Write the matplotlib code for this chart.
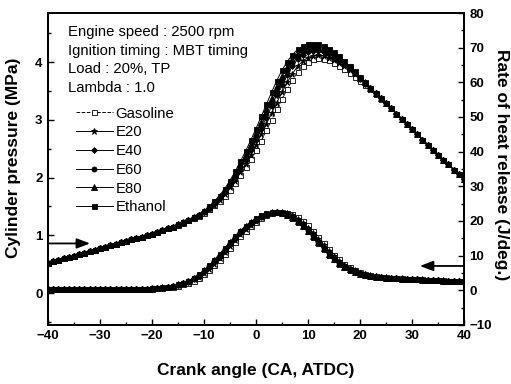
import numpy as np
import matplotlib
matplotlib.use("Agg")
import matplotlib.pyplot as plt
from matplotlib.ticker import MultipleLocator

plt.rcParams['font.family'] = ['Liberation Sans', 'DejaVu Sans']

# crank angle, one point per degree
crank_angle = np.arange(-40, 41)

# cylinder pressure (MPa)
p_gasoline = [
    0.53, 0.55, 0.58, 0.60, 0.63, 0.65, 0.68, 0.70, 0.73, 0.75,
    0.78, 0.80, 0.83, 0.85, 0.88, 0.90, 0.93, 0.95, 0.98, 1.00,
    1.03, 1.06, 1.09, 1.12, 1.15, 1.18, 1.22, 1.26, 1.30, 1.34,
    1.39, 1.45, 1.52, 1.60, 1.69, 1.79, 1.91, 2.04, 2.18, 2.32,
    2.47, 2.64, 2.82, 3.00, 3.18, 3.36, 3.53, 3.69, 3.83, 3.94,
    4.01, 4.05, 4.07, 4.06, 4.03, 3.99, 3.94, 3.88, 3.82, 3.75,
    3.68, 3.61, 3.53, 3.45, 3.37, 3.29, 3.20, 3.11, 3.02, 2.93,
    2.84, 2.75, 2.66, 2.57, 2.48, 2.40, 2.31, 2.23, 2.14, 2.06,
    1.98]
p_e20 = [
    0.53, 0.55, 0.58, 0.60, 0.63, 0.65, 0.68, 0.70, 0.73, 0.75,
    0.78, 0.80, 0.83, 0.85, 0.88, 0.90, 0.93, 0.95, 0.98, 1.00,
    1.03, 1.06, 1.09, 1.12, 1.15, 1.18, 1.22, 1.26, 1.30, 1.35,
    1.40, 1.46, 1.53, 1.62, 1.72, 1.83, 1.95, 2.09, 2.24, 2.40,
    2.57, 2.75, 2.93, 3.12, 3.30, 3.48, 3.65, 3.80, 3.93, 4.02,
    4.08, 4.11, 4.12, 4.11, 4.08, 4.04, 3.99, 3.93, 3.86, 3.79,
    3.70, 3.62, 3.54, 3.46, 3.38, 3.29, 3.20, 3.11, 3.02, 2.93,
    2.84, 2.75, 2.66, 2.57, 2.48, 2.40, 2.31, 2.23, 2.14, 2.06,
    1.98]
p_e40 = [
    0.53, 0.55, 0.58, 0.60, 0.63, 0.65, 0.68, 0.70, 0.73, 0.75,
    0.78, 0.80, 0.83, 0.85, 0.88, 0.90, 0.93, 0.95, 0.98, 1.00,
    1.03, 1.06, 1.09, 1.12, 1.15, 1.18, 1.22, 1.26, 1.30, 1.35,
    1.40, 1.47, 1.55, 1.64, 1.75, 1.87, 2.00, 2.15, 2.31, 2.48,
    2.66, 2.85, 3.04, 3.24, 3.43, 3.61, 3.78, 3.93, 4.05, 4.13,
    4.17, 4.19, 4.19, 4.17, 4.14, 4.09, 4.03, 3.96, 3.89, 3.81,
    3.71, 3.63, 3.55, 3.46, 3.38, 3.29, 3.20, 3.11, 3.02, 2.93,
    2.84, 2.75, 2.66, 2.57, 2.48, 2.40, 2.31, 2.23, 2.14, 2.06,
    1.98]
p_e60 = [
    0.53, 0.55, 0.58, 0.60, 0.63, 0.65, 0.68, 0.70, 0.73, 0.75,
    0.78, 0.80, 0.83, 0.85, 0.88, 0.90, 0.93, 0.95, 0.98, 1.00,
    1.03, 1.06, 1.09, 1.12, 1.15, 1.19, 1.23, 1.27, 1.31, 1.36,
    1.41, 1.48, 1.56, 1.66, 1.77, 1.89, 2.03, 2.18, 2.35, 2.52,
    2.70, 2.90, 3.10, 3.30, 3.49, 3.67, 3.84, 3.98, 4.09, 4.17,
    4.21, 4.23, 4.22, 4.20, 4.16, 4.11, 4.05, 3.98, 3.90, 3.82,
    3.72, 3.64, 3.55, 3.47, 3.38, 3.29, 3.20, 3.11, 3.02, 2.93,
    2.84, 2.75, 2.66, 2.57, 2.48, 2.40, 2.31, 2.23, 2.14, 2.06,
    1.98]
p_e80 = [
    0.53, 0.55, 0.58, 0.60, 0.63, 0.65, 0.68, 0.70, 0.73, 0.75,
    0.78, 0.80, 0.83, 0.85, 0.88, 0.90, 0.93, 0.95, 0.98, 1.00,
    1.03, 1.06, 1.09, 1.12, 1.15, 1.19, 1.23, 1.27, 1.31, 1.36,
    1.42, 1.49, 1.58, 1.68, 1.79, 1.92, 2.07, 2.23, 2.40, 2.58,
    2.77, 2.97, 3.18, 3.38, 3.58, 3.76, 3.92, 4.05, 4.15, 4.22,
    4.26, 4.27, 4.26, 4.23, 4.19, 4.13, 4.07, 3.99, 3.91, 3.83,
    3.73, 3.65, 3.56, 3.47, 3.38, 3.29, 3.20, 3.11, 3.02, 2.93,
    2.84, 2.75, 2.66, 2.57, 2.48, 2.40, 2.31, 2.23, 2.14, 2.06,
    1.98]
p_ethanol = [
    0.53, 0.55, 0.58, 0.60, 0.63, 0.65, 0.68, 0.70, 0.73, 0.75,
    0.78, 0.80, 0.83, 0.85, 0.88, 0.90, 0.93, 0.95, 0.98, 1.00,
    1.03, 1.06, 1.09, 1.12, 1.15, 1.19, 1.23, 1.27, 1.31, 1.36,
    1.43, 1.50, 1.59, 1.69, 1.81, 1.95, 2.11, 2.28, 2.46, 2.65,
    2.85, 3.06, 3.27, 3.48, 3.68, 3.86, 4.01, 4.13, 4.22, 4.28,
    4.31, 4.32, 4.31, 4.28, 4.23, 4.17, 4.10, 4.02, 3.93, 3.84,
    3.74, 3.65, 3.56, 3.47, 3.38, 3.29, 3.20, 3.11, 3.02, 2.93,
    2.84, 2.75, 2.66, 2.57, 2.48, 2.40, 2.31, 2.23, 2.14, 2.06,
    1.98]

# rate of heat release (J/deg.)
q_gasoline = [
    0.3, 0.3, 0.3, 0.3, 0.3, 0.3, 0.3, 0.3, 0.3, 0.3,
    0.3, 0.3, 0.3, 0.3, 0.3, 0.3, 0.3, 0.3, 0.3, 0.3,
    0.4, 0.5, 0.6, 0.8, 1.0, 1.3, 1.7, 2.2, 2.8, 3.6,
    4.6, 5.8, 7.2, 8.8, 10.5, 12.2, 14.0, 15.7, 17.2, 18.6,
    19.8, 20.8, 21.6, 22.2, 22.5, 22.6, 22.4, 21.9, 21.1, 20.0,
    18.7, 17.1, 15.4, 13.6, 11.9, 10.3, 8.9, 7.7, 6.7, 5.9,
    5.3, 4.8, 4.4, 4.1, 3.9, 3.7, 3.6, 3.5, 3.4, 3.3,
    3.2, 3.1, 3.1, 3.0, 3.0, 2.9, 2.9, 2.8, 2.8, 2.7,
    2.7]
q_e20 = [
    0.3, 0.3, 0.3, 0.3, 0.3, 0.3, 0.3, 0.3, 0.3, 0.3,
    0.3, 0.3, 0.3, 0.3, 0.3, 0.3, 0.3, 0.3, 0.3, 0.3,
    0.4, 0.5, 0.7, 0.9, 1.1, 1.4, 1.8, 2.4, 3.1, 3.9,
    5.0, 6.2, 7.7, 9.3, 11.0, 12.8, 14.5, 16.2, 17.6, 18.9,
    20.0, 21.0, 21.7, 22.2, 22.5, 22.5, 22.2, 21.6, 20.7, 19.5,
    18.1, 16.6, 14.8, 13.1, 11.4, 9.8, 8.5, 7.4, 6.5, 5.7,
    5.1, 4.7, 4.3, 4.0, 3.8, 3.7, 3.6, 3.5, 3.4, 3.3,
    3.2, 3.1, 3.1, 3.0, 3.0, 2.9, 2.9, 2.8, 2.8, 2.7,
    2.7]
q_e40 = [
    0.3, 0.3, 0.3, 0.3, 0.3, 0.3, 0.3, 0.3, 0.3, 0.3,
    0.3, 0.3, 0.3, 0.3, 0.3, 0.3, 0.3, 0.3, 0.3, 0.3,
    0.4, 0.5, 0.7, 0.9, 1.2, 1.5, 2.0, 2.5, 3.3, 4.2,
    5.3, 6.6, 8.1, 9.7, 11.4, 13.2, 14.9, 16.5, 17.9, 19.2,
    20.3, 21.2, 21.9, 22.3, 22.5, 22.4, 22.0, 21.3, 20.3, 19.1,
    17.7, 16.1, 14.3, 12.6, 10.9, 9.4, 8.1, 7.1, 6.2, 5.5,
    5.0, 4.6, 4.2, 4.0, 3.8, 3.6, 3.5, 3.4, 3.3, 3.2,
    3.1, 3.1, 3.0, 3.0, 2.9, 2.9, 2.8, 2.8, 2.7, 2.7,
    2.6]
q_e60 = [
    0.3, 0.3, 0.3, 0.3, 0.3, 0.3, 0.3, 0.3, 0.3, 0.3,
    0.3, 0.3, 0.3, 0.3, 0.3, 0.3, 0.3, 0.3, 0.3, 0.3,
    0.5, 0.6, 0.7, 1.0, 1.2, 1.6, 2.1, 2.6, 3.4, 4.4,
    5.5, 6.9, 8.4, 10.1, 11.8, 13.6, 15.3, 16.8, 18.2, 19.5,
    20.5, 21.4, 22.0, 22.4, 22.6, 22.4, 21.9, 21.1, 20.1, 18.8,
    17.4, 15.8, 14.0, 12.3, 10.7, 9.2, 8.0, 7.0, 6.1, 5.4,
    4.9, 4.5, 4.2, 3.9, 3.7, 3.6, 3.5, 3.4, 3.3, 3.2,
    3.1, 3.1, 3.0, 3.0, 2.9, 2.9, 2.8, 2.8, 2.7, 2.7,
    2.6]
q_e80 = [
    0.3, 0.3, 0.3, 0.3, 0.3, 0.3, 0.3, 0.3, 0.3, 0.3,
    0.3, 0.3, 0.3, 0.3, 0.3, 0.3, 0.3, 0.3, 0.3, 0.3,
    0.5, 0.6, 0.8, 1.0, 1.3, 1.7, 2.2, 2.7, 3.5, 4.5,
    5.7, 7.0, 8.6, 10.3, 12.0, 13.8, 15.5, 17.0, 18.4, 19.7,
    20.7, 21.5, 22.1, 22.5, 22.6, 22.3, 21.8, 21.0, 19.9, 18.6,
    17.2, 15.6, 13.8, 12.1, 10.5, 9.0, 7.8, 6.8, 6.0, 5.3,
    4.8, 4.4, 4.1, 3.9, 3.7, 3.6, 3.5, 3.4, 3.3, 3.2,
    3.1, 3.1, 3.0, 3.0, 2.9, 2.9, 2.8, 2.8, 2.7, 2.7,
    2.6]
q_ethanol = [
    0.3, 0.3, 0.3, 0.3, 0.3, 0.3, 0.3, 0.3, 0.3, 0.3,
    0.3, 0.3, 0.3, 0.3, 0.3, 0.3, 0.3, 0.3, 0.3, 0.3,
    0.5, 0.6, 0.8, 1.0, 1.3, 1.7, 2.2, 2.8, 3.6, 4.6,
    5.8, 7.2, 8.8, 10.5, 12.2, 14.0, 15.7, 17.2, 18.6, 19.8,
    20.8, 21.6, 22.2, 22.5, 22.5, 22.2, 21.6, 20.8, 19.7, 18.4,
    17.0, 15.4, 13.6, 11.9, 10.3, 8.9, 7.7, 6.7, 5.9, 5.3,
    4.8, 4.4, 4.1, 3.9, 3.7, 3.6, 3.5, 3.4, 3.3, 3.2,
    3.1, 3.1, 3.0, 3.0, 2.9, 2.9, 2.8, 2.8, 2.7, 2.7,
    2.6]

fuels = ["Gasoline", "E20", "E40", "E60", "E80", "Ethanol"]
pressures = [p_gasoline, p_e20, p_e40, p_e60, p_e80, p_ethanol]
heat_release = [q_gasoline, q_e20, q_e40, q_e60, q_e80, q_ethanol]

conditions = ["Engine speed : 2500 rpm",
              "Ignition timing : MBT timing",
              "Load : 20%, TP",
              "Lambda : 1.0"]

# marker / line style per fuel
styles = {
    "Gasoline": dict(marker='s', mfc='white', ls='--', ms=3.6),
    "E20": dict(marker='*', mfc='black', ls='-', ms=4.8),
    "E40": dict(marker='D', mfc='black', ls='-', ms=3.0),
    "E60": dict(marker='o', mfc='black', ls='-', ms=3.6),
    "E80": dict(marker='^', mfc='black', ls='-', ms=3.8),
    "Ethanol": dict(marker='s', mfc='black', ls='-', ms=3.6),
}

fig = plt.figure(figsize=(5.11, 3.84), dpi=100)
ax = fig.add_axes([0.094, 0.154, 0.814, 0.812])
ax2 = ax.twinx()

handles = []
for name, p, q in zip(fuels, pressures, heat_release):
    st = styles[name]
    h, = ax.plot(crank_angle, p, color='black', lw=0.7, mec='black', mew=0.6,
                 label=name, **st)
    ax2.plot(crank_angle, q, color='black', lw=0.7, mec='black', mew=0.6, **st)
    handles.append(h)

ax.set_xlim(-40, 40)
ax.set_ylim(-0.55, 4.85)
ax2.set_ylim(-10, 80)

ax.xaxis.set_major_locator(MultipleLocator(10))
ax.xaxis.set_minor_locator(MultipleLocator(5))
ax.yaxis.set_major_locator(MultipleLocator(1))
ax.yaxis.set_minor_locator(MultipleLocator(0.5))
ax2.yaxis.set_major_locator(MultipleLocator(10))
ax2.yaxis.set_minor_locator(MultipleLocator(5))

for a in (ax, ax2):
    a.tick_params(which='major', direction='in', length=4, width=1.0,
                  labelsize=9.5, pad=4)
    a.tick_params(which='minor', direction='in', length=2.5, width=1.0)
    for lbl in a.get_xticklabels() + a.get_yticklabels():
        lbl.set_fontweight('bold')
    for s in a.spines.values():
        s.set_linewidth(1.3)
ax.tick_params(axis='x', which='both', top=False)

ax.set_xlabel("Crank angle (CA, ATDC)", fontsize=12.5, fontweight='bold')
ax.xaxis.set_label_coords(0.5, -0.145)
ax.xaxis.label.set_va('center')
ax.set_ylabel("Cylinder pressure (MPa)", fontsize=12.5, fontweight='bold')
ax.yaxis.set_label_coords(-0.084, 0.535)
ax.yaxis.label.set_va('center')
ax2.set_ylabel("Rate of heat release (J/deg.)", fontsize=12.5,
               fontweight='bold', rotation=270)
ax2.yaxis.set_label_coords(1.091, 0.513)
ax2.yaxis.label.set_va('center')

# operating conditions
for i, line in enumerate(conditions):
    ax.text(0.048, 0.939 - i * 0.06, line, transform=ax.transAxes,
            fontsize=10.7, va='center', ha='left')

ax.legend(handles=handles, loc='upper left', bbox_to_anchor=(0.067, 0.70),
          frameon=False, fontsize=10.7, handlelength=2.5, handletextpad=0.15,
          labelspacing=0.32, borderpad=0, borderaxespad=0)

# arrows pointing to the matching axis
arrow = dict(arrowstyle='-|>,head_length=0.8,head_width=0.3', color='black',
             lw=1.3, shrinkA=0, shrinkB=0)
ax.annotate("", xy=(-31.9, 0.86), xytext=(-40, 0.86), arrowprops=arrow)
ax2.annotate("", xy=(31.5, 7.0), xytext=(40, 7.0), arrowprops=arrow)

fig.savefig("out.png", dpi=100)
